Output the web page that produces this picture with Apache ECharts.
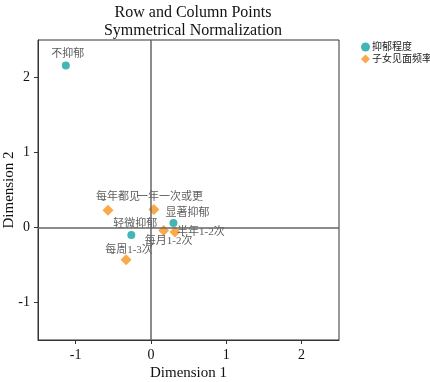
<!DOCTYPE html>
<html>
<head>
<meta charset="utf-8">
<script src="https://cdn.jsdelivr.net/npm/echarts@6/dist/echarts.min.js"></script>
<style>
    html, body { margin: 0; padding: 0; background: #fff; }
    #chart { width: 430px; height: 382px; }
</style>
</head>
<body>
<div id="chart"></div>
<script>
// Data
const rowNames = ['不抑郁', '显著抑郁', '轻微抑郁'];
const rowDim1 = [-1.13, 0.30, -0.26];
const rowDim2 = [2.16, 0.06, -0.10];

const colNames = ['每年都见', '一年一次或更', '每月1-2次', '半年1-2次', '每周1-3次'];
const colDim1 = [-0.57, 0.04, 0.17, 0.32, -0.33];
const colDim2 = [0.23, 0.24, -0.04, -0.06, -0.43];

const tickValues = [-1, 0, 1, 2];
const seriesNames = ['抑郁程度', '子女见面频率'];

// label offsets (px) so the text sits like the original
const labelOffset = {
    '不抑郁': [2, -11],
    '显著抑郁': [14, -10],
    '轻微抑郁': [4, -11],
    '每年都见': [10, -13],
    '一年一次或更': [16, -12],
    '每月1-2次': [5, 11],
    '半年1-2次': [26, 0],
    '每周1-3次': [3, -10]
};

const serif = '"Liberation Serif", "Noto Sans CJK SC", serif';
const labelFont = '"Liberation Serif", "Noto Sans CJK SC", serif';

const toPoints = (names, xs, ys) => names.map((n, i) => ({
    name: n,
    value: [xs[i], ys[i]],
    label: { offset: labelOffset[n] }
}));

const axisCommon = {
    type: 'value',
    min: -1.5,
    max: 2.5,
    splitLine: { show: false },
    axisLine: { show: true, onZero: false, lineStyle: { color: '#333', width: 1 } },
    axisTick: { show: true, length: 4, customValues: tickValues, lineStyle: { color: '#333' } },
    axisLabel: { customValues: tickValues, color: '#111', fontFamily: serif, fontSize: 14 },
    nameTextStyle: { color: '#111', fontFamily: serif, fontSize: 15 },
    nameMoveOverlap: false
};

const pointLabel = {
    show: true,
    position: 'inside',
    formatter: '{b}',
    color: '#333',
    fontSize: 11,
    fontFamily: labelFont
};

let myChart = echarts.init(document.getElementById('chart'), null, { renderer: 'canvas' });

const option = {
    backgroundColor: '#fff',
    animation: false,
    title: {
        text: 'Row and Column Points\nSymmetrical Normalization',
        left: 188,
        textAlign: 'center',
        top: -1,
        textStyle: { fontFamily: serif, fontWeight: 'normal', fontSize: 16, color: '#111', lineHeight: 18 }
    },
    legend: {
        data: [
            { name: seriesNames[0], icon: 'circle' },
            { name: seriesNames[1], icon: 'diamond' }
        ],
        orient: 'vertical',
        left: 356,
        top: 37,
        itemWidth: 9,
        itemHeight: 9,
        itemGap: 2,
        textStyle: { fontFamily: labelFont, fontSize: 10, color: '#222', padding: [0, 0, 0, -3] }
    },
    grid: {
        left: 38,
        top: 40,
        width: 301,
        height: 300,
        show: true,
        borderColor: '#333',
        borderWidth: 1,
        containLabel: false,
        outerBoundsMode: 'none'
    },
    xAxis: Object.assign({}, axisCommon, {
        name: 'Dimension 1',
        nameLocation: 'middle',
        nameGap: 26
    }),
    yAxis: Object.assign({}, axisCommon, {
        name: 'Dimension 2',
        nameLocation: 'middle',
        nameGap: 21
    }),
    series: [
        {
            name: seriesNames[0],
            type: 'scatter',
            symbol: 'circle',
            symbolSize: 8,
            itemStyle: { color: '#14a3a3' },
            label: pointLabel,
            data: toPoints(rowNames, rowDim1, rowDim2),
            markLine: {
                silent: true,
                symbol: 'none',
                label: { show: false },
                lineStyle: { color: '#666', width: 1.5, type: 'solid' },
                data: [{ xAxis: 0 }, { yAxis: 0 }]
            },
            z: 3
        },
        {
            name: seriesNames[1],
            type: 'scatter',
            symbol: 'diamond',
            symbolSize: 11,
            itemStyle: { color: '#f7941d' },
            label: pointLabel,
            data: toPoints(colNames, colDim1, colDim2),
            z: 3
        }
    ]
};

myChart.setOption(option, true);
</script>
</body>
</html>
